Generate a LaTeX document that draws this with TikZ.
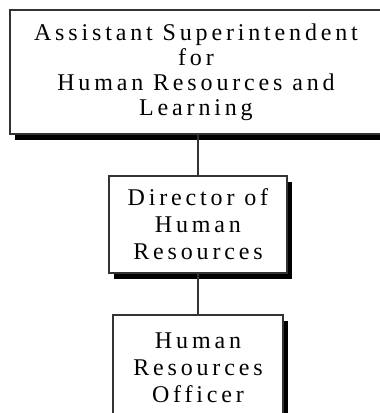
\documentclass[tikz,border=0pt]{standalone}
\usepackage{fontspec}
\setmainfont{Liberation Serif}[LetterSpace=16]
\usepackage{tikz}
\usepackage{xcolor}
\definecolor{myline}{HTML}{333333}

\begin{document}
\begin{tikzpicture}[x=1pt,y=1pt]
			\tikzset{% box and connector styles
				orgbox/.style={rectangle,draw=myline,line width=1.6pt,fill=white,align=center,
					font=\fontsize{24}{27}\selectfont,inner sep=0pt,
					preaction={fill=black,transform canvas={xshift=5pt,yshift=-6pt}}},
				orgline/.style={draw=myline,line width=1.6pt}}
			\useasboundingbox (0,0) rectangle (380,413);
			\node[orgbox,minimum width=372,minimum height=124,
				font=\fontsize{24}{25}\selectfont] (asst) at (196,341) {Assistant Superintendent\\for\\Human Resources and\\Learning};
			\node[orgbox,minimum width=178,minimum height=97] (dir) at (198,188.5) {Director of\\Human\\Resources};
			\node[orgbox,minimum width=170,minimum height=105] (hro) at (198,45.5) {Human\\Resources\\Officer};
	
			\draw[orgline](dir.north) -- (dir.north |- asst.south);
			\draw[orgline](dir.south) -- (hro.north);
		\end{tikzpicture}
\end{document}
